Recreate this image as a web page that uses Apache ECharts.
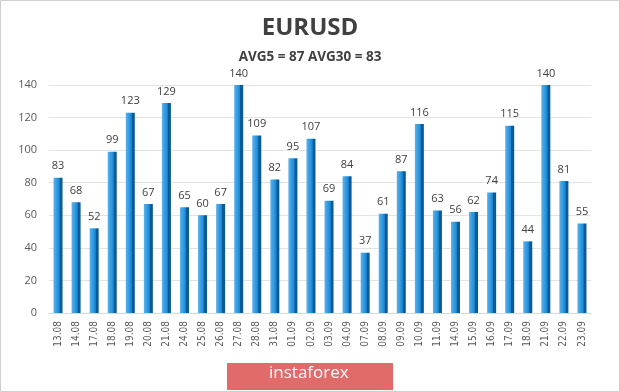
<!DOCTYPE html>
<html>
<head>
<meta charset="utf-8">
<script src="https://cdn.jsdelivr.net/npm/echarts@6/dist/echarts.min.js"></script>
<style>
html,body{margin:0;padding:0;background:#fff;}
#chart{width:620px;height:392px;}
</style>
</head>
<body>
<div id="chart"></div>
<script>
const categories = ['13.08','14.08','17.08','18.08','19.08','20.08','21.08','24.08','25.08','26.08','27.08','28.08','31.08','01.09','02.09','03.09','04.09','07.09','08.09','09.09','10.09','11.09','14.09','15.09','16.09','17.09','18.09','21.09','22.09','23.09'];
const values = [83,68,52,99,123,67,129,65,60,67,140,109,82,95,107,69,84,37,61,87,116,63,56,62,74,115,44,140,81,55];
const yTicks = [0,20,40,60,80,100,120,140];
const titleText = 'EURUSD';
const subtitleText = 'AVG5 = 87 AVG30 = 83';
const badgeText = 'instaforex';

const chart = echarts.init(document.getElementById('chart'), null, {renderer:'canvas'});
const barGradient = new echarts.graphic.LinearGradient(0,0,1,0,[
  {offset:0,color:'#5ab2ec'},
  {offset:0.55,color:'#1e8fdc'},
  {offset:0.68,color:'#1878c0'},
  {offset:0.7,color:'#0d5a94'},
  {offset:1,color:'#0d5a94'}
]);
chart.setOption({
  backgroundColor:'#fff',
  animation:false,
  title:[
    {text:titleText,left:'center',top:11,textStyle:{fontFamily:'Open Sans',fontWeight:'bold',fontSize:24,color:'#404040'}},
    {text:subtitleText,left:'center',top:45,textStyle:{fontFamily:'Open Sans',fontWeight:'bold',fontSize:13.5,color:'#404040'}}
  ],
  grid:{left:49,right:29,top:85,bottom:79,containLabel:false},
  xAxis:{
    type:'category',data:categories,
    axisLine:{show:true,lineStyle:{color:'#d9d9d9'}},
    axisTick:{show:false},
    axisLabel:{rotate:90,fontSize:10,color:'#595959',fontFamily:'DejaVu Sans Condensed, Liberation Sans',margin:8}
  },
  yAxis:{
    type:'value',min:yTicks[0],max:yTicks[yTicks.length-1],interval:20,
    axisLine:{show:false},axisTick:{show:false},
    axisLabel:{fontSize:11,color:'#595959',fontFamily:'Open Sans',margin:12},
    splitLine:{lineStyle:{color:'#e3e3e3'}}
  },
  series:[{
    type:'bar',data:values,barWidth:9,
    itemStyle:{color:barGradient},
    label:{show:true,position:'top',distance:6,fontSize:11,color:'#404040',fontFamily:'Open Sans'}
  }],
  graphic:[
    {type:'rect',shape:{x:0.5,y:0.5,width:619,height:391},style:{fill:'none',stroke:'#cfcfcf',lineWidth:1},silent:true},
    {type:'rect',shape:{x:227,y:363,width:166,height:27},style:{fill:'#e16a6b'},silent:true},
    {type:'text',left:269,top:365,style:{text:badgeText,fill:'#ffffff',font:'17px "Open Sans"'},silent:true}
  ]
});
</script>
</body>
</html>
